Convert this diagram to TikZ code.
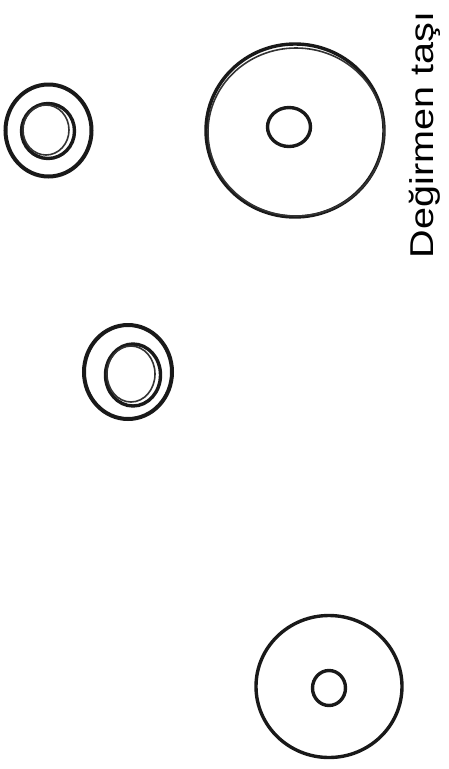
\documentclass[tikz,border=0pt]{standalone}
\usepackage{fontspec}
\setmainfont{Liberation Sans}
\begin{document}
\begin{tikzpicture}[x=1pt,y=-1pt,
  sketch/.style={draw=black!90,line width=3.4pt},
  thin sketch/.style={draw=black!80,line width=1.6pt}]
\useasboundingbox (0,0) rectangle (448,769);
% top-left ring
\draw[sketch,line width=4pt] (48.5,130.5) ellipse [x radius=43,y radius=46];
\draw[sketch] (48,131) ellipse [x radius=26.5,y radius=27.5];
\draw[thin sketch] (46,130) ellipse [x radius=23,y radius=25];
% big millstone
\draw[sketch] (295,130.5) ellipse [x radius=89,y radius=86.5];
\draw[thin sketch] (296,132) ellipse [x radius=88,y radius=84];
\draw[sketch] (289,127) ellipse [x radius=21.5,y radius=19.5];
% middle ring
\draw[sketch,line width=4pt] (128,372) ellipse [x radius=44,y radius=47];
\draw[sketch] (133,375) ellipse [x radius=27.5,y radius=31];
\draw[thin sketch] (131,374) ellipse [x radius=24,y radius=28];
% bottom millstone
\draw[sketch] (329,686.5) ellipse [x radius=73,y radius=71];
\draw[sketch] (329,688) ellipse [x radius=16.5,y radius=17.5];
% label
\node[rotate=90,inner sep=0pt] (label) at (425,135)
  {\fontsize{33}{38}\selectfont\scalebox{1.2}[1]{Değirmen taşı}};
\end{tikzpicture}
\end{document}
